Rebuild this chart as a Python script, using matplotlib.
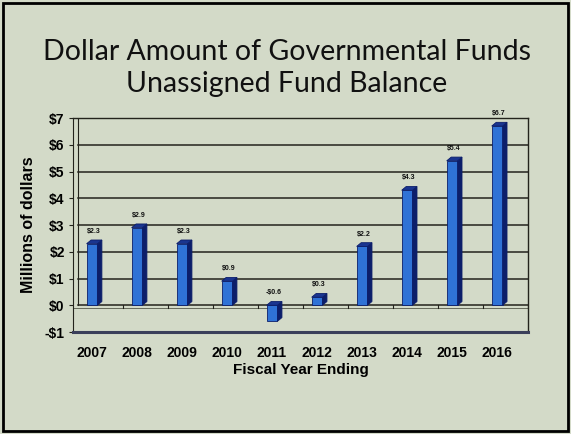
import numpy as np
import matplotlib.pyplot as plt
from matplotlib.patches import Polygon, Rectangle

# Data
years = ['2007', '2008', '2009', '2010', '2011', '2012', '2013', '2014', '2015', '2016']
balances = [2.3, 2.9, 2.3, 0.9, -0.6, 0.3, 2.2, 4.3, 5.4, 6.7]
value_labels = ['$2.3', '$2.9', '$2.3', '$0.9', '-$0.6', '$0.3', '$2.2', '$4.3', '$5.4', '$6.7']
ytick_values = [-1, 0, 1, 2, 3, 4, 5, 6, 7]
ytick_labels = ['-$1', '$0', '$1', '$2', '$3', '$4', '$5', '$6', '$7']

bg = '#d3dac8'
face = '#2f72d6'
side = '#0c1e6a'
top = '#1a3590'
grid_col = '#23231c'

plt.rcParams['font.family'] = ['Liberation Sans', 'DejaVu Sans']

fig = plt.figure(figsize=(5.71, 4.34), dpi=100)
fig.patch.set_facecolor(bg)
fig.patches.append(Rectangle((0.005, 0.008), 0.99, 0.985, transform=fig.transFigure,
                             fill=False, edgecolor='black', linewidth=2.0))

ax = fig.add_axes([0.128, 0.235, 0.797, 0.493])
ax.set_facecolor(bg)

x = np.arange(len(years))
w = 0.24
dx, dy = 0.1, 0.14

ax.set_xlim(-0.42, 9.69)
ax.set_ylim(-1, 7)

# grid on back wall
for v in ytick_values[1:]:
    ax.plot([-0.42 + dx, 9.69], [v, v], color=grid_col, lw=1.1, zorder=1)
ax.plot([-0.42 + dx, -0.42 + dx], [0, 7], color=grid_col, lw=0.8, zorder=1)
ax.plot([-0.42, 9.69], [-0.1, -0.1], color='#55584a', lw=0.6, zorder=1)
# small ticks along zero line
for xi in np.arange(-0.42 + dx + 1.0, 9.69, 1.0):
    ax.plot([xi, xi], [0, -0.12], color=grid_col, lw=0.8, zorder=1)

# 3D-looking bars
for xi, v in zip(x, balances):
    x0 = xi - w / 2
    ax.add_patch(Rectangle((x0, min(0, v)), w, abs(v), facecolor=face,
                           edgecolor=side, lw=0.6, zorder=3))
    yt = max(0, v)
    yb = min(0, v)
    ax.add_patch(Polygon([(x0 + w, yb), (x0 + w + dx, yb + dy), (x0 + w + dx, yt + dy),
                          (x0 + w, yt)], closed=True, facecolor=side, edgecolor=side,
                         lw=0.6, zorder=3))
    ax.add_patch(Polygon([(x0, yt), (x0 + dx, yt + dy), (x0 + w + dx, yt + dy),
                          (x0 + w, yt)], closed=True, facecolor=top, edgecolor=side,
                         lw=0.6, zorder=3))

for xi, v, lab in zip(x, balances, value_labels):
    ax.text(xi + 0.03, max(v, 0) + 0.33, lab, ha='center', va='bottom', fontsize=5,
            fontweight='bold', color='#111111', zorder=4)

ax.set_xticks(x)
ax.set_xticklabels(years, fontsize=10, fontweight='bold')
ax.set_yticks(ytick_values)
ax.set_yticklabels(ytick_labels, fontsize=10, fontweight='bold')
ax.tick_params(axis='x', length=0, pad=10)
ax.tick_params(axis='y', length=3, width=0.8, color=grid_col, pad=3)

for s in ['top', 'right']:
    ax.spines[s].set_color(grid_col)
    ax.spines[s].set_linewidth(1.0)
ax.spines['left'].set_color(grid_col)
ax.spines['left'].set_linewidth(0.8)
ax.spines['bottom'].set_color('#3a3f5a')
ax.spines['bottom'].set_linewidth(2.2)

ax.set_xlabel('Fiscal Year Ending', fontsize=11, fontweight='bold', labelpad=2)
ax.set_ylabel('Millions of dollars', fontsize=11.5, fontweight='bold', labelpad=6)

fig.text(0.502, 0.862, 'Dollar Amount of Governmental Funds', ha='center', va='baseline',
         fontsize=20.5, color='#111111', family='Lato')
fig.text(0.502, 0.788, 'Unassigned Fund Balance', ha='center', va='baseline',
         fontsize=20.5, color='#111111', family='Lato')

fig.savefig('out.png', dpi=100, facecolor=bg)
